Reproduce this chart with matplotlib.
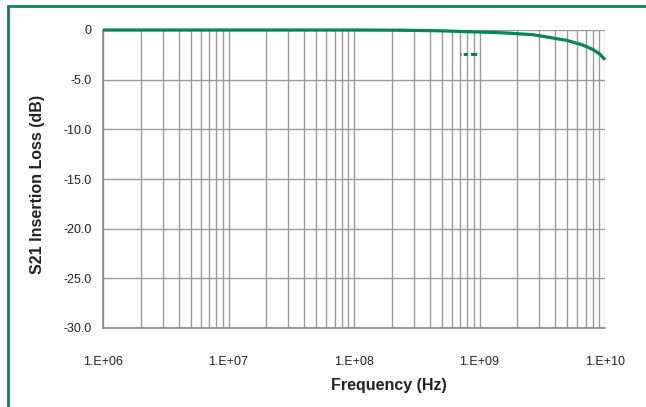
import numpy as np
import matplotlib
matplotlib.use('Agg')
import matplotlib.pyplot as plt
from matplotlib.lines import Line2D
from matplotlib.patches import Rectangle
from matplotlib.ticker import LogLocator, NullFormatter

# insertion loss curve
freq_hz = [1e6, 1e7, 1e8, 2.3e8, 4.8e8, 1.46e9, 2.67e9, 4.98e9, 6.68e9, 8.0e9, 9.1e9, 9.6e9, 1e10]
loss_db = [0.0, 0.0, 0.0, -0.02, -0.08, -0.27, -0.47, -1.05, -1.52, -1.96, -2.42, -2.75, -3.0]

x_ticks = [1e6, 1e7, 1e8, 1e9, 1e10]
x_labels = ['1.E+06', '1.E+07', '1.E+08', '1.E+09', '1.E+10']
y_ticks = [0, -5, -10, -15, -20, -25, -30]
y_labels = ['0', '-5.0', '-10.0', '-15.0', '-20.0', '-25.0', '-30.0']

green = '#00875a'
grid_col = '#9a9a9a'

plt.rcParams['font.family'] = ['Liberation Sans', 'DejaVu Sans']

fig = plt.figure(figsize=(6.46, 4.07), dpi=100)
ax = fig.add_axes([103/646, 1 - 328/407, 502/646, 298/407])

ax.plot(freq_hz, loss_db, color=green, lw=2.3, clip_on=False, zorder=5,
        solid_capstyle='butt')

ax.set_xscale('log')
ax.set_xlim(1e6, 1e10)
ax.set_ylim(-30, 0)

ax.set_xticks(x_ticks)
ax.set_xticklabels(x_labels)
ax.xaxis.set_minor_locator(LogLocator(base=10, subs=np.arange(2, 10)))
ax.xaxis.set_minor_formatter(NullFormatter())
ax.set_yticks(y_ticks)
ax.set_yticklabels(y_labels)

ax.grid(True, which='both', axis='x', color=grid_col, lw=1.0)
ax.grid(True, which='major', axis='y', color=grid_col, lw=1.0)
ax.set_axisbelow(True)

ax.tick_params(axis='both', which='both', length=0, labelsize=9, colors='#222222')
ax.tick_params(axis='x', pad=20)
ax.tick_params(axis='y', pad=8)

for s in ['top', 'right']:
    ax.spines[s].set_visible(False)
for s in ['left', 'bottom']:
    ax.spines[s].set_color('#8a8a8a')
    ax.spines[s].set_linewidth(1.2)

ax.set_xlabel('Frequency (Hz)', fontsize=11.5, fontweight='bold', color='#222222')
ax.xaxis.set_label_coords((389 - 103) / 502, (328 - 378) / 298)
ax.set_ylabel('S21 Insertion Loss (dB)', fontsize=11.5, fontweight='bold', color='#222222')
ax.yaxis.set_label_coords((45 - 103) / 502, (328 - 184) / 298)

# legend entry with its dashed marker only
handle = Line2D([], [], color=green, lw=2.2, ls=(0, (0.35, 0.7, 1.4, 1.0, 2.0, 6)))
ax.legend(handles=[handle], labels=[''], frameon=False, handlelength=1.6,
          loc='center', bbox_to_anchor=((477 - 103) / 502, (328 - 55) / 298))

# green frame around the chart
fig.add_artist(Rectangle((7.5/646, -0.1), 1.1, 1.1 - 6.5/407, transform=fig.transFigure,
                         fill=False, edgecolor=green, lw=2.0, clip_on=False))

fig.savefig('out.png', dpi=100)
